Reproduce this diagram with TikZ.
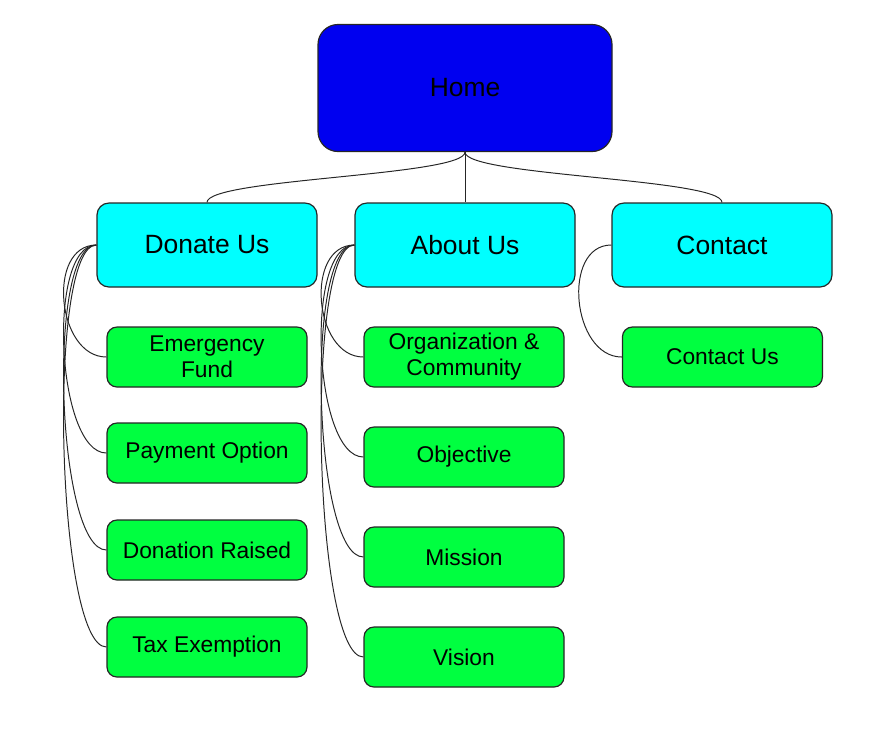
\documentclass[tikz,border=0pt]{standalone}
\usepackage{fontspec}
\setmainfont{Liberation Sans}
\usetikzlibrary{positioning, calc}
\definecolor{homeblue}{RGB}{0,0,240}
\definecolor{secaqua}{RGB}{0,255,255}
\definecolor{pagegreen}{RGB}{0,255,64}

\begin{document}
\begin{tikzpicture}[
  every node/.style={font=\fontsize{16.2}{18.4}\selectfont},
  homebox/.style={draw=black!85, line width=0.85pt, fill=homeblue, rounded corners=0.5cm, minimum width=7.35cm, minimum height=3.175cm, font=\fontsize{18.8}{22}\selectfont},
  secbox/.style={draw=black!85, line width=0.85pt, fill=secaqua, rounded corners=0.3cm, minimum width=5.5cm, minimum height=2.1cm, font=\fontsize{18.8}{22}\selectfont},
  pagebox/.style={draw=black!85, line width=0.85pt, fill=pagegreen, rounded corners=0.25cm, minimum width=5cm, minimum height=1.5cm, align=center},
  link/.style={black!85, line width=0.7pt}
]
\useasboundingbox (0,0) rectangle (22,-18.2);

% Top level
\node[homebox] (home) at (11.625,-2.2) {Home};

% Sections
\node[secbox] (donate) at (5.175,-6.125) {Donate Us};
\node[secbox] (about) at (11.625,-6.125) {About Us};
\node[secbox] (contact) at (18.05,-6.125) {Contact};

\draw[link] (home.south) to[out=-90, in=90, distance=0.6cm] (donate.north);
\draw[link] (home.south) -- (about.north);
\draw[link] (home.south) to[out=-90, in=90, distance=0.6cm] (contact.north);

% Donate pages
\foreach \i/\lab/\y in {
  1/{Emergency\\Fund}/-8.925,
  2/Payment Option/-11.325,
  3/Donation Raised/-13.75,
  4/Tax Exemption/-16.175%
} {
  \node[pagebox] (don\i) at (5.175,\y) {\lab};
  \draw[link] (donate.west) to[out=180, in=180, distance=1.25cm] (don\i.west);
}

% About pages
\foreach \i/\lab/\y in {
  1/{Organization \&\\Community}/-8.925,
  2/Objective/-11.425,
  3/Mission/-13.925,
  4/Vision/-16.425%
} {
  \node[pagebox] (abt\i) at (11.6,\y) {\lab};
  \draw[link] (about.west) to[out=180, in=180, distance=1.25cm] (abt\i.west);
}

% Contact page
\node[pagebox] (cont1) at (18.06,-8.925) {Contact Us};
\draw[link] (contact.west) to[out=180, in=180, distance=1.25cm] (cont1.west);

\end{tikzpicture}
\end{document}
